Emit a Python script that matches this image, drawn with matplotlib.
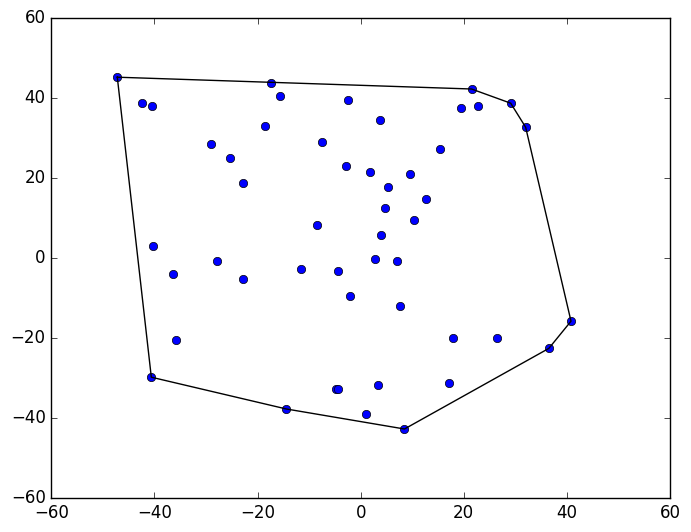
import matplotlib
matplotlib.use('Agg')
import matplotlib.pyplot as plt

plt.style.use('classic')

# scatter points
xs = [-47.2, -42.5, -40.4, -17.3, -15.7, -2.5, -18.6, -29.1, -25.4, -22.8,
      -7.4, -2.8, -8.4, -40.25,
      21.5, 29.1, 32.0, 19.4, 22.85, 3.7, 15.3, 1.9, 9.5, 5.24,
      12.6, 4.66, 10.3, 3.9,
      -36.3, -27.8, -22.8, -11.5, -4.3, -2.1, -35.9, -40.6, -14.4, -4.85, -4.4,
      2.7, 7.0, 7.6, 17.9, 26.4, 40.8, 36.5, 3.3, 17.1, 1.0, 8.5]
ys = [45.2, 38.7, 37.9, 43.7, 40.4, 39.4, 32.9, 28.4, 24.9, 18.7,
      28.9, 22.9, 8.2, 2.9,
      42.25, 38.7, 32.7, 37.4, 37.9, 34.4, 27.2, 21.4, 20.9, 17.7,
      14.7, 12.4, 9.4, 5.7,
      -4.1, -0.8, -5.3, -2.8, -3.3, -9.6, -20.6, -29.8, -37.75, -32.8, -32.8,
      -0.2, -0.8, -12.1, -20.1, -20.1, -15.8, -22.6, -31.8, -31.3, -39.1, -42.75]

# convex hull vertices, in order
hull_x = [-47.2, 21.5, 29.1, 32.0, 40.8, 36.5, 8.5, -14.4, -40.6, -47.2]
hull_y = [45.2, 42.25, 38.7, 32.7, -15.8, -22.6, -42.75, -37.75, -29.8, 45.2]

fig = plt.figure(figsize=(6.91, 5.32), dpi=100)
ax = fig.add_axes([51.3 / 691, 34 / 532, 618.7 / 691, 480 / 532])
ax.plot(xs, ys, 'o', color='blue', markeredgecolor='black', markersize=6)
ax.plot(hull_x, hull_y, 'k-', linewidth=1)
ax.set_xlim(-60, 60)
ax.set_ylim(-60, 60)
fig.savefig('out.png', dpi=100)
